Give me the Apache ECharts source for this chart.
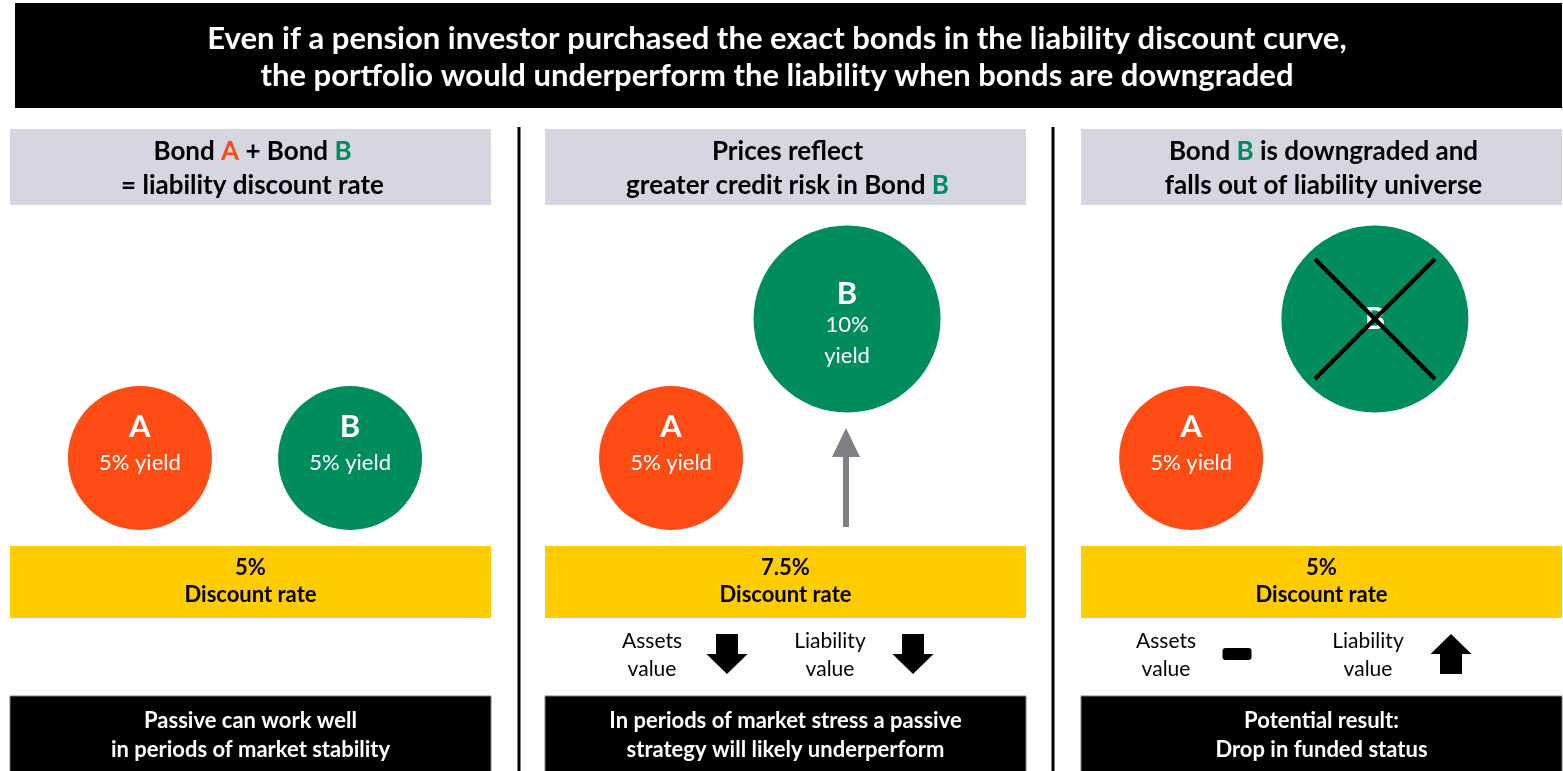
<!DOCTYPE html>
<html>
<head>
<meta charset="utf-8">
<script src="https://cdn.jsdelivr.net/npm/echarts@6/dist/echarts.min.js"></script>
<style>
  html, body { margin: 0; padding: 0; background: #fff; }
  #chart { width: 1563px; height: 771px; }
</style>
</head>
<body>
<div id="chart"></div>
<script>
// ---- content ----
const headline = [
    'Even if a pension investor purchased the exact bonds in the liability discount curve,',
    'the portfolio would underperform the liability when bonds are downgraded'
];
const panelTitles = [
    ['Bond {a|A} + Bond {b|B}', '= liability discount rate'],
    ['Prices reflect', 'greater credit risk in Bond {b|B}'],
    ['Bond {b|B} is downgraded and', 'falls out of liability universe']
];
const bondNames = ['A', 'B'];
const bondYields = [[5, 5], [5, 10], [5, 10]];
const bondDropped = [[false, false], [false, false], [false, true]];
const discountRates = ['5%', '7.5%', '5%'];
const assetsMove = ['', 'down', 'flat'];
const liabilityMove = ['', 'down', 'up'];
const conclusions = [
    ['Passive can work well', 'in periods of market stability'],
    ['In periods of market stress a passive', 'strategy will likely underperform'],
    ['Potential result:', 'Drop in funded status']
];

// ---- look ----
const FONT = 'Lato';
const ORANGE = '#FF4B14';
const GREEN = '#008C5E';
const YELLOW = '#FFCC00';
const HEAD_GRAY = '#D6D6E0';

const panelLeft = [10, 545, 1081];
const panelW = 481;
// where each bond sits across its panel (percent of panel width)
const bondSlot = [[27, 70.7], [26.2, 62.8], [22.9, 61.1]];

function bondLabel(name, y, dropped) {
    if (dropped) return '{n|' + name + '}';
    if (y >= 10) return '{n|' + name + '}\n{t|' + y + '%}\n{t|yield}';
    return '{n|' + name + '}\n{y|' + y + '% yield}\n{y| }';
}

const grids = [], xAxes = [], yAxes = [], series = [];
panelLeft.forEach((left, i) => {
    grids.push({ left: left, width: panelW, top: 263.4, height: 333.6 });
    xAxes.push({ type: 'value', gridIndex: i, min: 0, max: 100, show: false });
    yAxes.push({ type: 'value', gridIndex: i, min: 0, max: 12, show: false });

    series.push({
        type: 'scatter',
        xAxisIndex: i,
        yAxisIndex: i,
        silent: true,
        data: bondNames.map((name, j) => {
            const y = bondYields[i][j];
            const big = y >= 10;
            return {
                name: name,
                value: [bondSlot[i][j], y],
                symbolSize: big ? 187 : 144,
                itemStyle: { color: name === 'A' ? ORANGE : GREEN, opacity: 1 },
                label: {
                    show: true,
                    position: 'inside',
                    offset: bondDropped[i][j] ? [0, 0] : (big ? [0, 6] : [0, 5]),
                    formatter: bondLabel(name, y, bondDropped[i][j]),
                    rich: {
                        n: { fontFamily: FONT, fontSize: 31, fontWeight: 'bold', color: '#fff', lineHeight: big ? 31 : 36 },
                        y: { fontFamily: FONT, fontSize: 22, color: '#fff', lineHeight: 36 },
                        t: { fontFamily: FONT, fontSize: 22, color: '#fff', lineHeight: 31 }
                    }
                }
            };
        })
    });

    // cross over bonds that drop out of the universe
    const crossed = [];
    bondNames.forEach((name, j) => {
        if (bondDropped[i][j]) crossed.push([bondSlot[i][j], bondYields[i][j]]);
    });
    if (crossed.length) {
        series.push({
            type: 'scatter',
            xAxisIndex: i,
            yAxisIndex: i,
            silent: true,
            z: 5,
            symbol: 'path://M0,2.4L2.4,0L100,97.6L97.6,100Z M97.6,0L100,2.4L2.4,100L0,97.6Z',
            symbolSize: 123,
            itemStyle: { color: '#000', opacity: 1 },
            data: crossed
        });
    }
});

// ---- boxes, text and arrows ----
function textEl(x, y, lines, size, weight, fill, lineHeight, rich) {
    return {
        type: 'text', x: x, y: y, z: 10,
        style: {
            text: lines.join('\n'),
            fill: fill,
            fontFamily: FONT,
            fontSize: size,
            fontWeight: weight,
            align: 'center',
            verticalAlign: 'middle',
            lineHeight: lineHeight,
            rich: rich || {}
        }
    };
}

function arrow(cx, top, bottom, w, shaftW, headH, dir, color) {
    let pts;
    if (dir === 'down') {
        const hy = bottom - headH;
        pts = [[cx - shaftW / 2, top], [cx + shaftW / 2, top], [cx + shaftW / 2, hy], [cx + w / 2, hy],
               [cx, bottom], [cx - w / 2, hy], [cx - shaftW / 2, hy]];
    } else {
        const hy = top + headH;
        pts = [[cx, top], [cx + w / 2, hy], [cx + shaftW / 2, hy], [cx + shaftW / 2, bottom],
               [cx - shaftW / 2, bottom], [cx - shaftW / 2, hy], [cx - w / 2, hy]];
    }
    return { type: 'polygon', z: 10, shape: { points: pts }, style: { fill: color } };
}

function moveMark(cx, dir) {
    if (dir === 'flat') {
        return { type: 'rect', z: 10, shape: { x: cx - 14.5, y: 648, width: 29, height: 12, r: 3 }, style: { fill: '#000' } };
    }
    return arrow(cx, 634, 674, 41, 22, 20, dir, '#000');
}

const colorTags = {
    a: { fill: ORANGE, fontFamily: FONT, fontSize: 26, fontWeight: 'bold', lineHeight: 34 },
    b: { fill: GREEN, fontFamily: FONT, fontSize: 26, fontWeight: 'bold', lineHeight: 34 }
};

const graphic = [
    { type: 'rect', shape: { x: 15, y: 3, width: 1547, height: 105 }, style: { fill: '#000' } },
    textEl(777, 57, headline, 31, 'bold', '#fff', 37),
    { type: 'rect', shape: { x: 517.5, y: 127, width: 3, height: 650 }, style: { fill: '#000' } },
    { type: 'rect', shape: { x: 1051.5, y: 127, width: 3, height: 650 }, style: { fill: '#000' } }
];

panelLeft.forEach((left, i) => {
    const cx = left + panelW / 2;
    graphic.push({ type: 'rect', shape: { x: left, y: 129, width: panelW, height: 76 }, style: { fill: HEAD_GRAY } });
    graphic.push(textEl(cx + 2, 169, panelTitles[i], 26, 'bold', '#000', 34, colorTags));

    graphic.push({ type: 'rect', shape: { x: left, y: 546, width: panelW, height: 72 }, style: { fill: YELLOW } });
    graphic.push(textEl(cx, 581, [discountRates[i], 'Discount rate'], 22, 'bold', '#000', 27));

    graphic.push({ type: 'rect', shape: { x: left, y: 696, width: panelW, height: 80 }, style: { fill: '#000', stroke: '#7f7f7f', lineWidth: 1 } });
    graphic.push(textEl(cx, 735, conclusions[i], 22, 'bold', '#fff', 29));

    if (assetsMove[i]) {
        const ax = left + (i === 1 ? 107 : 85);
        const lx = left + (i === 1 ? 285 : 287);
        graphic.push(textEl(ax, 655, ['Assets', 'value'], 21, 'normal', '#000', 28));
        graphic.push(moveMark(left + (i === 1 ? 182 : 156), assetsMove[i]));
        graphic.push(textEl(lx, 655, ['Liability', 'value'], 21, 'normal', '#000', 28));
        graphic.push(moveMark(left + (i === 1 ? 368 : 370), liabilityMove[i]));
    }
});

// grey arrow: bond B yield rising in the stress panel
graphic.push(arrow(846, 428, 527, 28, 6, 29, 'up', '#7F7F85'));

const chart = echarts.init(document.getElementById('chart'));
chart.setOption({
    animation: false,
    backgroundColor: '#fff',
    grid: grids,
    xAxis: xAxes,
    yAxis: yAxes,
    series: series,
    graphic: graphic
});
window.addEventListener('resize', () => chart.resize());
</script>
</body>
</html>
